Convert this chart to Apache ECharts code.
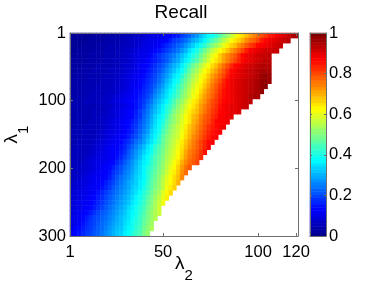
<!DOCTYPE html>
<html><head><meta charset="utf-8">
<style>html,body{margin:0;padding:0;background:#fff}#c{width:374px;height:281px}</style>
<script src="https://cdn.jsdelivr.net/npm/echarts@6/dist/echarts.min.js"></script>
</head><body><div id="c"></div>
<script>
const lambda2Cells=[2,4,6,8,10,12,14,16,18,20,22,24,26,28,30,32,34,36,38,40,42,44,46,48,50,52,54,56,58,60,62,64,66,68,70,72,74,76,78,80,82,84,86,88,90,92,94,96,98,100,102,104,106,108,110,112,114,116,118,120];
const lambda1Cells=[4,11,19,26,34,41,49,56,64,71,79,86,94,101,109,116,124,131,139,146,154,161,169,176,184,191,199,206,214,221,229,236,244,251,259,266,274,281,289,296];
const xTicks=[1,50,100,120];
const yTicks=[1,100,200,300];
const barLevels=[0,2,3,5,6,8,10,11,13,14,16,17,19,21,22,24,25,27,29,30,32,33,35,37,38,40,41,43,44,46,48,49,51,52,54,56,57,59,60,62,63,65,67,68,70,71,73,75,76,78,79,81,83,84,86,87,89,90,92,94,95,97,98,100];
const r01=[1,1,1,1,1,1,2,2,2,2,3,3,3,4,4,5,5,6,6,7,8,9,9,10,11,12,12,14,15,18,20,22,25,27,31,34,37,38,41,45,49,52,56,60,64,66,69,72,75,77,80,82,85,86,88,90,91,93,95,96];
const r02=[1,1,1,1,1,2,2,2,2,3,3,3,4,4,5,5,6,7,7,8,9,10,10,11,12,13,15,18,19,21,23,26,29,31,34,37,41,44,47,51,55,58,62,65,67,70,74,77,78,81,85,87,89,90,91,92,93,94];
const r03=[1,1,1,2,2,2,2,3,3,3,4,4,4,5,5,6,6,7,8,9,10,10,11,12,14,16,18,20,22,24,27,30,33,36,39,42,46,50,53,56,60,64,67,69,73,76,79,82,84,87,88,89,90,91,92,93];
const r04=[1,1,2,2,2,2,3,3,3,4,4,4,5,5,6,6,7,8,9,10,10,11,13,14,16,18,20,22,24,27,30,34,37,40,44,48,52,56,59,62,65,68,72,75,78,81,85,88,89,90,91,92,92,93,93];
const r05=[1,2,2,2,2,3,3,3,3,4,4,4,5,5,6,7,8,9,10,10,11,13,15,17,19,21,23,25,28,31,34,37,41,43,48,52,56,60,63,67,71,74,77,79,83,87,89,90,91,92,93,93,94];
const r06=[2,2,2,2,3,3,3,3,4,4,4,5,5,6,6,7,8,9,10,11,12,14,15,17,19,21,24,27,29,33,36,39,43,46,50,54,58,62,65,68,72,75,78,81,84,87,89,90,91,92,93,94,94];
const r07=[2,2,2,3,3,3,3,4,4,4,4,5,5,6,7,7,8,10,11,12,13,15,17,19,21,24,27,30,32,36,40,44,48,51,55,59,62,66,69,73,77,80,84,87,88,90,91,92,93,94,95,95,95];
const r08=[2,2,3,3,3,3,4,4,4,4,5,5,6,6,7,8,9,10,11,12,14,16,18,20,23,26,29,32,35,38,42,47,51,54,58,62,65,69,72,76,79,83,87,88,90,91,92,93,94,95,96,96,96];
const r09=[2,3,3,3,3,4,4,4,4,5,5,5,6,7,8,9,10,11,12,13,15,17,19,22,25,28,31,35,37,41,46,50,54,57,61,64,68,72,75,78,81,85,88,89,90,91,92,93,94,95,97,98,97];
const r10=[2,3,3,3,4,4,4,4,5,5,5,6,6,7,8,9,10,11,13,14,16,18,20,23,26,30,33,37,39,44,48,52,56,59,62,66,70,74,77,80,84,87,89,90,91,92,93,94,95,96,98,98,97];
const r11=[3,3,3,4,4,4,4,5,5,5,5,6,7,7,8,9,11,12,13,15,17,19,22,25,28,32,35,39,42,46,50,54,58,61,64,68,72,76,79,82,85,87,89,90,91,92,93,94,95,96,98,99];
const r12=[3,3,3,4,4,4,5,5,5,5,6,6,7,8,9,10,11,13,14,16,18,20,24,27,30,34,37,40,44,48,52,56,60,62,66,70,74,77,80,83,86,88,89,90,91,92,93,94,95,96,98];
const r13=[3,3,4,4,4,5,5,5,5,6,6,7,8,9,10,11,12,13,15,17,19,22,26,29,32,35,39,42,45,50,53,57,61,64,68,72,75,78,81,84,86,88,89,90,91,92,93,95,96,96];
const r14=[3,4,4,4,5,5,5,5,6,6,7,8,9,10,11,12,13,14,16,18,21,24,28,31,34,37,41,45,49,52,56,60,64,66,70,73,77,80,82,85,87,88,89,90,91,92,93,94];
const r15=[4,4,4,4,4,4,4,5,5,6,6,7,8,9,10,11,12,14,16,19,23,26,30,33,36,40,43,47,51,55,58,62,65,68,72,75,78,81,83,86,88,89,90,90,91,92,93];
const r16=[3,3,4,4,4,4,5,5,5,6,7,8,9,10,11,12,13,15,18,21,24,28,31,34,37,41,45,50,53,56,60,64,67,69,73,76,79,82,84,87,88,89,90,90,91];
const r17=[3,3,4,4,4,4,5,5,6,6,7,8,9,10,11,12,13,16,18,22,25,29,33,36,39,43,48,52,55,58,62,65,69,71,75,78,80,83,85,88,88,89,90];
const r18=[3,4,4,4,4,5,5,5,6,7,8,9,10,11,12,13,15,17,20,23,26,30,34,37,40,45,49,52,55,59,62,65,70,72,76,79,81,84,87,88,88,89];
const r19=[3,4,4,4,5,5,5,5,6,7,8,9,10,11,12,13,16,18,21,24,27,31,35,38,42,46,51,54,57,60,64,68,71,74,77,80,83,85,87,88,89];
const r20=[4,4,4,5,5,5,5,6,7,8,9,9,10,11,12,14,16,19,22,25,28,33,36,39,44,48,52,55,57,61,65,69,72,75,78,81,84,86,87,88];
const r21=[4,4,4,5,5,5,5,6,7,8,9,10,11,12,13,15,18,20,23,27,30,34,37,41,46,50,53,56,58,62,66,70,74,76,79,82,85,87,88];
const r22=[4,4,5,5,5,5,6,7,8,9,10,11,12,13,15,17,20,23,25,28,32,35,39,42,47,51,54,57,60,64,68,72,75,78,81,84,87,88];
const r23=[4,5,5,5,5,6,7,8,9,10,11,12,12,14,16,19,22,25,28,31,35,38,42,45,48,52,55,58,61,65,69,73,76,78,81,84,88];
const r24=[4,5,5,5,5,6,7,8,9,10,11,12,13,15,17,21,24,27,30,33,36,39,43,46,49,53,56,59,62,66,71,75,77,79,82,86];
const r25=[5,5,5,5,6,7,8,9,10,10,11,12,14,16,19,22,25,28,31,35,38,41,45,47,50,54,57,60,63,67,72,76,78,80,83];
const r26=[5,5,5,6,7,8,9,10,10,11,12,13,16,18,21,24,27,30,33,36,38,42,45,48,51,55,58,62,65,70,74,77,79,81];
const r27=[5,5,6,7,7,8,9,10,11,12,13,15,18,20,23,25,28,31,34,37,40,43,46,49,52,56,60,63,67,72,76,79];
const r28=[5,6,6,7,8,9,10,11,12,12,14,17,19,21,24,26,29,32,34,37,41,44,47,50,53,57,61,64,68,73,77];
const r29=[5,6,7,8,9,10,11,11,12,13,15,18,21,23,25,27,30,33,35,37,41,45,48,51,55,59,62,66,69,74];
const r30=[6,7,8,9,9,10,11,12,13,15,17,19,22,24,26,29,31,33,36,38,42,46,49,52,56,60,63,66,70];
const r31=[7,7,8,9,10,11,11,12,14,16,18,21,23,25,27,29,32,34,36,39,43,46,50,52,56,61,64,67];
const r32=[7,8,9,10,10,11,12,14,16,18,20,22,24,26,28,30,33,35,38,41,44,48,51,54,59,63,66];
const r33=[8,8,9,10,11,12,13,15,17,19,21,23,25,27,29,31,34,37,39,42,46,49,53,56,60,64];
const r34=[8,9,10,11,11,12,14,16,18,20,22,24,26,28,30,32,35,37,40,43,47,50,54,57,61];
const r35=[8,9,10,11,12,13,15,17,19,21,23,25,27,29,31,34,36,39,41,44,48,51,54,58];
const r36=[9,10,11,12,13,15,17,19,21,22,24,26,28,30,32,35,37,39,42,45,49,52,55,57];
const r37=[9,10,11,13,15,17,19,20,22,23,25,27,29,31,33,35,38,40,43,46,49,52,55];
const r38=[9,10,12,14,16,18,19,21,23,24,26,28,30,31,34,36,39,41,43,47,50,53];
const r39=[10,12,13,15,17,18,20,22,23,25,27,29,31,32,35,37,39,42,44,48,51,54];
const r40=[11,13,14,16,18,19,21,22,24,26,28,30,32,33,36,38,41,43,45,49,52];
const recallPercentRows=[r01,r02,r03,r04,r05,r06,r07,r08,r09,r10,r11,r12,r13,r14,r15,r16,r17,r18,r19,r20,r21,r22,r23,r24,r25,r26,r27,r28,r29,r30,r31,r32,r33,r34,r35,r36,r37,r38,r39,r40];

const heatData=[];
recallPercentRows.forEach((row,j)=>row.forEach((v,i)=>heatData.push([i,j,v])));
const barData=barLevels.map((v,j)=>[0,j,v]);
const jet=['#00008f','#0000ff','#0080ff','#00ffff','#80ff80','#ffff00','#ff8000','#ff0000','#800000'];
const font='"Liberation Sans",Arial,sans-serif';
const lineCol='#6e6e6e';
const hiddenCat=(data,extra)=>Object.assign({type:'category',data,show:false,boundaryGap:true},extra||{});
const tickAxis=(o)=>Object.assign({
  type:'value',z:10,splitLine:{show:false},
  axisLine:{show:true,onZero:false,lineStyle:{color:lineCol,width:1}},
  axisTick:{show:true,inside:true,length:3,lineStyle:{color:lineCol,width:1}},
  axisLabel:{show:false}
},o);
const nameRich={l:{fontFamily:font,fontSize:19,color:'#000',verticalAlign:'top'},s:{fontFamily:font,fontSize:15,color:'#000',padding:[14,0,0,0]}};
const chart=echarts.init(document.getElementById('c'),null,{renderer:'canvas'});
chart.setOption({
  backgroundColor:'#fff',animation:false,
  title:{text:'Recall',left:176,top:-2,textAlign:'center',textStyle:{fontFamily:font,fontSize:19,fontWeight:'normal',color:'#000'}},
  grid:[{left:70,top:33,width:228,height:203,outerBoundsMode:'none'},{left:310,top:33,width:16,height:203,outerBoundsMode:'none'}],
  visualMap:{type:'continuous',show:false,min:0,max:100,dimension:2,inRange:{color:jet}},
  xAxis:[
    hiddenCat(lambda2Cells,{gridIndex:0}),
    tickAxis({gridIndex:0,position:'bottom',min:1,max:121,
      axisTick:{show:true,inside:true,length:3,customValues:xTicks,lineStyle:{color:lineCol}},
      axisLabel:{show:true,customValues:xTicks,margin:8,fontFamily:font,fontSize:16.5,color:'#000',hideOverlap:false},
      name:'{l|λ}{s|2}',nameLocation:'middle',nameGap:18,nameMoveOverlap:false,
      nameTextStyle:{rich:nameRich}}),
    tickAxis({gridIndex:0,position:'top',min:1,max:121,axisTick:{show:true,inside:true,length:3,customValues:xTicks,lineStyle:{color:lineCol}}}),
    hiddenCat(['c'],{gridIndex:1}),
    tickAxis({gridIndex:1,position:'top',min:0,max:1,axisTick:{show:false}}),
    tickAxis({gridIndex:1,position:'bottom',min:0,max:1,axisTick:{show:false}})
  ],
  yAxis:[
    hiddenCat(lambda1Cells,{gridIndex:0,inverse:true}),
    tickAxis({gridIndex:0,position:'left',inverse:true,min:1,max:300,
      axisTick:{show:true,inside:true,length:3,customValues:yTicks,lineStyle:{color:lineCol}},
      axisLabel:{show:true,customValues:yTicks,margin:4,fontFamily:font,fontSize:16.5,color:'#000',hideOverlap:false},
      name:'{l|λ}{s|1}',nameLocation:'middle',nameGap:39,nameRotate:90,nameMoveOverlap:false,
      nameTextStyle:{rich:nameRich}}),
    tickAxis({gridIndex:0,position:'right',inverse:true,min:1,max:300,axisTick:{show:true,inside:true,length:3,customValues:yTicks,lineStyle:{color:lineCol}}}),
    hiddenCat(barLevels,{gridIndex:1}),
    tickAxis({gridIndex:1,position:'right',min:0,max:1,interval:0.2,
      axisLabel:{show:true,margin:3,fontFamily:font,fontSize:16.5,color:'#000'},
      axisTick:{show:true,inside:true,length:2,lineStyle:{color:lineCol}}}),
    tickAxis({gridIndex:1,position:'left',min:0,max:1,interval:0.2,axisTick:{show:true,inside:true,length:2,lineStyle:{color:lineCol}}})
  ],
  series:[
    {type:'heatmap',xAxisIndex:0,yAxisIndex:0,data:heatData,progressive:0,emphasis:{disabled:true}},
    {type:'heatmap',xAxisIndex:3,yAxisIndex:3,data:barData,progressive:0,emphasis:{disabled:true}}
  ]
});
</script></body></html>
